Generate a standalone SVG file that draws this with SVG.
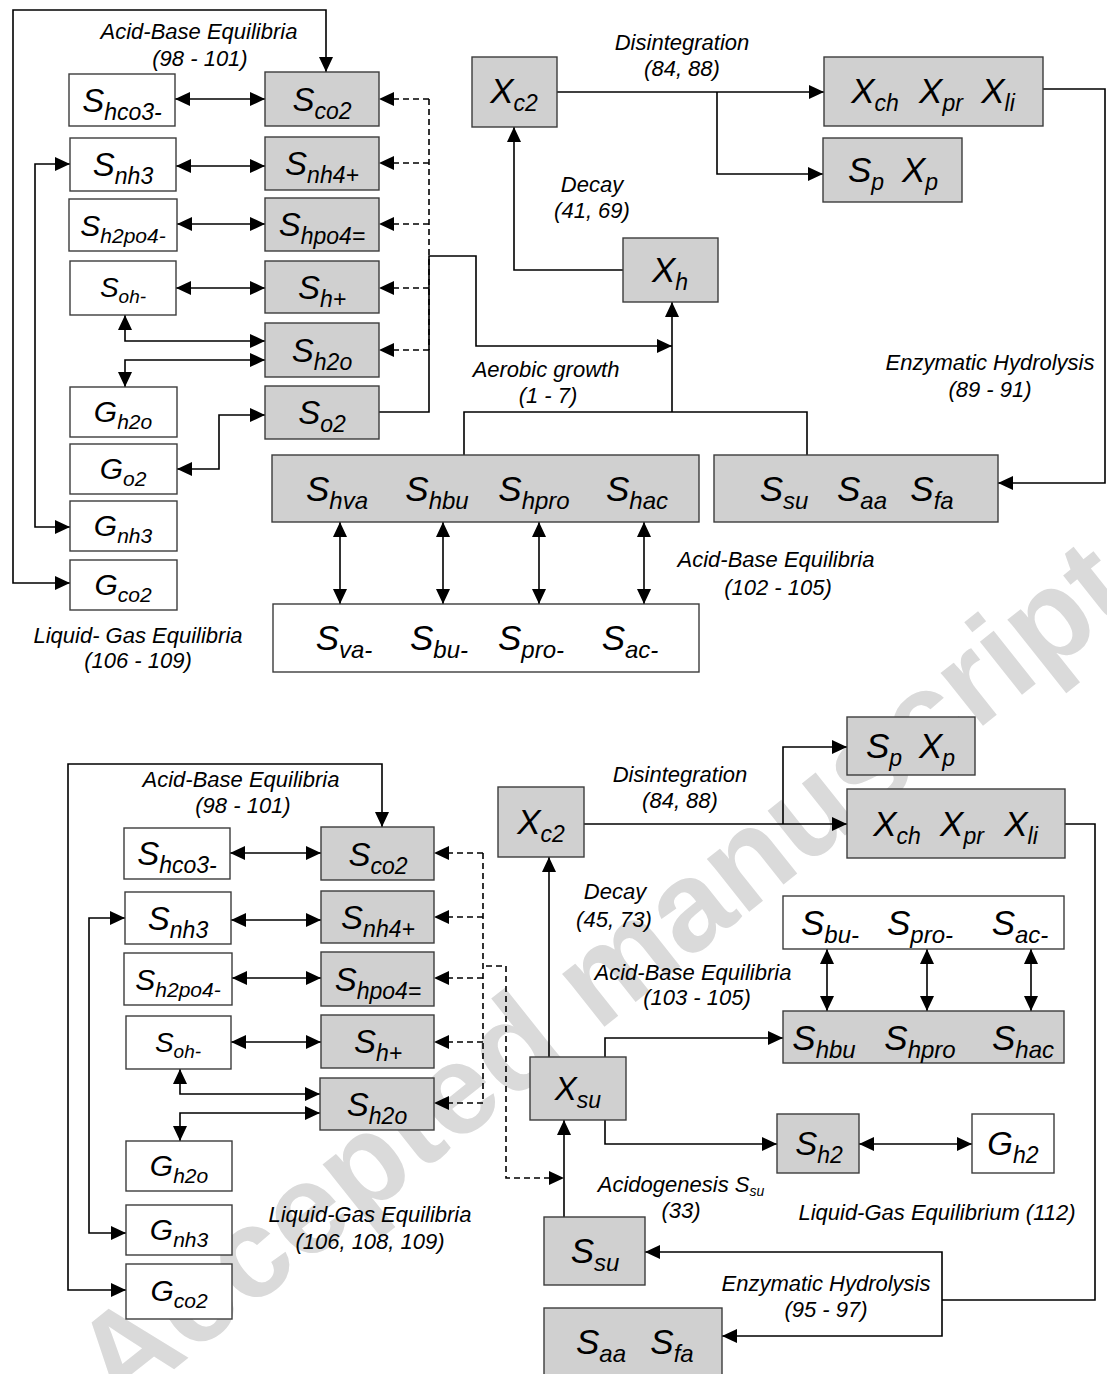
<svg xmlns="http://www.w3.org/2000/svg" width="1107" height="1374" viewBox="0 0 1107 1374">
<defs>
<style>
.g{fill:#d0d0d0;stroke:#3c3c3c;stroke-width:1.4}
.w{fill:#fff;stroke:#3c3c3c;stroke-width:1.4}
.t{font-family:"Liberation Sans",Arial,sans-serif;font-style:italic;font-size:33px;text-anchor:middle;fill:#000}
.t .sb{font-size:23px}
.t.sm{font-size:28px}
.t.sm .sb{font-size:19px}
.t.gm{font-size:30px}
.t.gm .sb{font-size:21px}
.t.xl{font-size:35px}
.t.bg{font-size:35px}
.t.bg .sb{font-size:24px}
.l{font-family:"Liberation Sans",Arial,sans-serif;font-style:italic;font-size:22px;text-anchor:middle;fill:#000}
.l .sb{font-size:14px}
.c{fill:none;stroke:#000;stroke-width:1.6}
.d{stroke-dasharray:6,4}
.a{marker-end:url(#ah)}
.b{marker-start:url(#ah);marker-end:url(#ah)}
.wm{font-family:"Liberation Sans",Arial,sans-serif;font-weight:bold;font-size:128px;fill:#dadada}
</style>
<marker id="ah" viewBox="0 0 15 14" refX="15" refY="7" markerWidth="15" markerHeight="14" markerUnits="userSpaceOnUse" orient="auto-start-reverse">
<path d="M0,0 L15,7 L0,14 z" fill="#000"/>
</marker>
</defs>
<rect width="1107" height="1374" fill="#fff"/>
<text class="wm" x="628" y="1008" text-anchor="middle" transform="rotate(-38.5 628 1008)">Accepted manuscript</text>

<g id="connectors">
<path class="c b" d="M70,583 H13 V10 H326 V72"/>
<path class="c b" d="M70,164 H35 V527 H70"/>
<path class="c b" d="M175,99 H265"/>
<path class="c b" d="M176,166 H265"/>
<path class="c b" d="M177,224 H265"/>
<path class="c b" d="M176,288 H265"/>
<path class="c b" d="M125,315 V341 H265"/>
<path class="c b" d="M265,360 H125 V387"/>
<path class="c b" d="M265,415 H219 V469 H177"/>
<path class="c d" d="M429,99 V350"/>
<path class="c d a" d="M429,99 H379"/>
<path class="c d a" d="M429,163 H379"/>
<path class="c d a" d="M429,224 H379"/>
<path class="c d a" d="M429,288 H379"/>
<path class="c d a" d="M429,350 H379"/>
<path class="c a" d="M379,412 H429 V256 H476 V346 H672"/>
<path class="c a" d="M672,412 V302"/>
<path class="c" d="M464,455 V412 H807 V455"/>
<path class="c a" d="M623,270 H514 V127"/>
<path class="c a" d="M557,92 H824"/>
<path class="c a" d="M717,92 V174 H823"/>
<path class="c a" d="M1043,89 H1105 V483 H998"/>
<path class="c b" d="M340,522 V604"/>
<path class="c b" d="M443,522 V604"/>
<path class="c b" d="M539,522 V604"/>
<path class="c b" d="M644,522 V604"/>
<path class="c b" d="M126,1290 H68 V764 H382 V827"/>
<path class="c b" d="M125,918 H89 V1233 H126"/>
<path class="c b" d="M230,853 H321"/>
<path class="c b" d="M231,920 H321"/>
<path class="c b" d="M232,978 H321"/>
<path class="c b" d="M231,1042 H321"/>
<path class="c b" d="M180,1069 V1094 H320"/>
<path class="c b" d="M320,1113 H180 V1141"/>
<path class="c d" d="M483,853 V1103"/>
<path class="c d a" d="M483,853 H434"/>
<path class="c d a" d="M483,917 H434"/>
<path class="c d a" d="M483,978 H434"/>
<path class="c d a" d="M483,1042 H434"/>
<path class="c d a" d="M483,1103 H434"/>
<path class="c d a" d="M486,966 H506 V1178 H564"/>
<path class="c a" d="M549,1057 V857"/>
<path class="c a" d="M584,824 H847"/>
<path class="c a" d="M783,824 V747 H847"/>
<path class="c a" d="M605,1057 V1038 H783"/>
<path class="c a" d="M605,1120 V1144 H777"/>
<path class="c b" d="M859,1144 H972"/>
<path class="c a" d="M564,1217 V1120"/>
<path class="c" d="M1065,824 H1095 V1300 H942"/>
<path class="c a" d="M942,1300 V1252 H645"/>
<path class="c a" d="M942,1300 V1336 H722"/>
<path class="c b" d="M827,949 V1011"/>
<path class="c b" d="M927,949 V1011"/>
<path class="c b" d="M1031,949 V1011"/>
</g>

<g id="labels">
<text class="l"><tspan x="199" y="39">Acid-Base Equilibria</tspan><tspan x="200" y="66">(98 - 101)</tspan></text>
<text class="l"><tspan x="682" y="50">Disintegration</tspan><tspan x="682" y="76">(84, 88)</tspan></text>
<text class="l"><tspan x="592" y="192">Decay</tspan><tspan x="592" y="218">(41, 69)</tspan></text>
<text class="l"><tspan x="546" y="377">Aerobic growth</tspan><tspan x="548" y="403">(1 - 7)</tspan></text>
<text class="l"><tspan x="990" y="370">Enzymatic Hydrolysis</tspan><tspan x="990" y="397">(89 - 91)</tspan></text>
<text class="l"><tspan x="776" y="567">Acid-Base Equilibria</tspan><tspan x="778" y="595">(102 - 105)</tspan></text>
<text class="l"><tspan x="138" y="643">Liquid- Gas Equilibria</tspan><tspan x="138" y="668">(106 - 109)</tspan></text>
<text class="l"><tspan x="241" y="787">Acid-Base Equilibria</tspan><tspan x="243" y="813">(98 - 101)</tspan></text>
<text class="l"><tspan x="680" y="782">Disintegration</tspan><tspan x="680" y="808">(84, 88)</tspan></text>
<text class="l"><tspan x="615" y="899">Decay</tspan><tspan x="614" y="927">(45, 73)</tspan></text>
<text class="l"><tspan x="693" y="980">Acid-Base Equilibria</tspan><tspan x="697" y="1005">(103 - 105)</tspan></text>
<text class="l"><tspan x="681" y="1192">Acidogenesis S<tspan class="sb" dy="4">su</tspan></tspan><tspan x="681" y="1218">(33)</tspan></text>
<text class="l" x="937" y="1220">Liquid-Gas Equilibrium (112)</text>
<text class="l"><tspan x="826" y="1291">Enzymatic Hydrolysis</tspan><tspan x="826" y="1317">(95 - 97)</tspan></text>
<text class="l"><tspan x="370" y="1222">Liquid-Gas Equilibria</tspan><tspan x="370" y="1249">(106, 108, 109)</tspan></text>
</g>

<g id="t_hco3"><rect class="w" x="69" y="74" width="106" height="52"/><text class="t" x="122" y="112">S<tspan class="sb" dy="8">hco3-</tspan></text></g>
<g id="t_co2"><rect class="g" x="265" y="72" width="114" height="54"/><text class="t" x="322" y="111">S<tspan class="sb" dy="8">co2</tspan></text></g>
<g id="t_nh3"><rect class="w" x="70" y="138" width="106" height="53"/><text class="t" x="123" y="176">S<tspan class="sb" dy="8">nh3</tspan></text></g>
<g id="t_nh4"><rect class="g" x="265" y="137" width="114" height="53"/><text class="t" x="322" y="175">S<tspan class="sb" dy="8">nh4+</tspan></text></g>
<g id="t_h2po4"><rect class="w" x="69" y="199" width="108" height="52"/><text class="t gm" x="123" y="236">S<tspan class="sb" dy="7">h2po4-</tspan></text></g>
<g id="t_hpo4"><rect class="g" x="265" y="198" width="114" height="53"/><text class="t" x="322" y="236">S<tspan class="sb" dy="8">hpo4=</tspan></text></g>
<g id="t_oh"><rect class="w" x="70" y="261" width="106" height="54"/><text class="t sm" x="123" y="297">S<tspan class="sb" dy="6">oh-</tspan></text></g>
<g id="t_hp"><rect class="g" x="265" y="261" width="114" height="52"/><text class="t" x="322" y="299">S<tspan class="sb" dy="8">h+</tspan></text></g>
<g id="t_h2o"><rect class="g" x="265" y="323" width="114" height="54"/><text class="t" x="322" y="362">S<tspan class="sb" dy="8">h2o</tspan></text></g>
<g id="t_o2"><rect class="g" x="265" y="386" width="114" height="53"/><text class="t" x="322" y="424">S<tspan class="sb" dy="8">o2</tspan></text></g>
<g id="t_gh2o"><rect class="w" x="70" y="387" width="107" height="50"/><text class="t gm" x="123" y="422">G<tspan class="sb" dy="7">h2o</tspan></text></g>
<g id="t_go2"><rect class="w" x="70" y="444" width="107" height="50"/><text class="t gm" x="123" y="479">G<tspan class="sb" dy="7">o2</tspan></text></g>
<g id="t_gnh3"><rect class="w" x="70" y="501" width="107" height="50"/><text class="t gm" x="123" y="536">G<tspan class="sb" dy="7">nh3</tspan></text></g>
<g id="t_gco2"><rect class="w" x="70" y="560" width="107" height="50"/><text class="t gm" x="123" y="595">G<tspan class="sb" dy="7">co2</tspan></text></g>
<g id="t_xc2"><rect class="g" x="472" y="57" width="85" height="70"/><text class="t xl" x="514" y="103">X<tspan class="sb" dy="8">c2</tspan></text></g>
<g id="t_xch"><rect class="g" x="824" y="57" width="219" height="69"/><text class="t xl" x="875" y="103">X<tspan class="sb" dy="8">ch</tspan></text><text class="t xl" x="941" y="103">X<tspan class="sb" dy="8">pr</tspan></text><text class="t xl" x="998" y="103">X<tspan class="sb" dy="8">li</tspan></text></g>
<g id="t_sp"><rect class="g" x="823" y="138" width="139" height="64"/><text class="t xl" x="866" y="182">S<tspan class="sb" dy="8">p</tspan></text><text class="t xl" x="920" y="182">X<tspan class="sb" dy="8">p</tspan></text></g>
<g id="t_xh"><rect class="g" x="623" y="238" width="95" height="64"/><text class="t xl" x="670" y="282">X<tspan class="sb" dy="8">h</tspan></text></g>
<g id="t_shva"><rect class="g" x="272" y="455" width="427" height="67"/><text class="t bg" x="337" y="501">S<tspan class="sb" dy="8">hva</tspan></text><text class="t bg" x="437" y="501">S<tspan class="sb" dy="8">hbu</tspan></text><text class="t bg" x="534" y="501">S<tspan class="sb" dy="8">hpro</tspan></text><text class="t bg" x="637" y="501">S<tspan class="sb" dy="8">hac</tspan></text></g>
<g id="t_ssu"><rect class="g" x="714" y="455" width="284" height="67"/><text class="t bg" x="784" y="501">S<tspan class="sb" dy="8">su</tspan></text><text class="t bg" x="862" y="501">S<tspan class="sb" dy="8">aa</tspan></text><text class="t bg" x="932" y="501">S<tspan class="sb" dy="8">fa</tspan></text></g>
<g id="t_sva"><rect class="w" x="273" y="604" width="426" height="68"/><text class="t bg" x="344" y="650">S<tspan class="sb" dy="8">va-</tspan></text><text class="t bg" x="439" y="650">S<tspan class="sb" dy="8">bu-</tspan></text><text class="t bg" x="531" y="650">S<tspan class="sb" dy="8">pro-</tspan></text><text class="t bg" x="630" y="650">S<tspan class="sb" dy="8">ac-</tspan></text></g>

<g id="b_hco3"><rect class="w" x="124" y="828" width="106" height="51"/><text class="t" x="177" y="865">S<tspan class="sb" dy="8">hco3-</tspan></text></g>
<g id="b_co2"><rect class="g" x="321" y="827" width="113" height="53"/><text class="t" x="378" y="866">S<tspan class="sb" dy="8">co2</tspan></text></g>
<g id="b_nh3"><rect class="w" x="125" y="892" width="106" height="52"/><text class="t" x="178" y="930">S<tspan class="sb" dy="8">nh3</tspan></text></g>
<g id="b_nh4"><rect class="g" x="321" y="891" width="113" height="52"/><text class="t" x="378" y="929">S<tspan class="sb" dy="8">nh4+</tspan></text></g>
<g id="b_h2po4"><rect class="w" x="124" y="953" width="108" height="52"/><text class="t gm" x="178" y="990">S<tspan class="sb" dy="7">h2po4-</tspan></text></g>
<g id="b_hpo4"><rect class="g" x="321" y="952" width="113" height="54"/><text class="t" x="378" y="991">S<tspan class="sb" dy="8">hpo4=</tspan></text></g>
<g id="b_oh"><rect class="w" x="126" y="1016" width="105" height="53"/><text class="t sm" x="178" y="1052">S<tspan class="sb" dy="6">oh-</tspan></text></g>
<g id="b_hp"><rect class="g" x="321" y="1015" width="113" height="53"/><text class="t" x="378" y="1053">S<tspan class="sb" dy="8">h+</tspan></text></g>
<g id="b_h2o"><rect class="g" x="320" y="1078" width="114" height="52"/><text class="t" x="377" y="1116">S<tspan class="sb" dy="8">h2o</tspan></text></g>
<g id="b_gh2o"><rect class="w" x="126" y="1141" width="106" height="50"/><text class="t gm" x="179" y="1176">G<tspan class="sb" dy="7">h2o</tspan></text></g>
<g id="b_gnh3"><rect class="w" x="126" y="1205" width="106" height="50"/><text class="t gm" x="179" y="1240">G<tspan class="sb" dy="7">nh3</tspan></text></g>
<g id="b_gco2"><rect class="w" x="126" y="1264" width="106" height="55"/><text class="t gm" x="179" y="1301">G<tspan class="sb" dy="7">co2</tspan></text></g>
<g id="b_xc2"><rect class="g" x="498" y="787" width="86" height="70"/><text class="t xl" x="541" y="834">X<tspan class="sb" dy="8">c2</tspan></text></g>
<g id="b_sp"><rect class="g" x="847" y="717" width="128" height="58"/><text class="t xl" x="884" y="758">S<tspan class="sb" dy="8">p</tspan></text><text class="t xl" x="937" y="758">X<tspan class="sb" dy="8">p</tspan></text></g>
<g id="b_xch"><rect class="g" x="847" y="789" width="218" height="69"/><text class="t xl" x="897" y="836">X<tspan class="sb" dy="8">ch</tspan></text><text class="t xl" x="962" y="836">X<tspan class="sb" dy="8">pr</tspan></text><text class="t xl" x="1021" y="836">X<tspan class="sb" dy="8">li</tspan></text></g>
<g id="b_sbu"><rect class="w" x="783" y="896" width="281" height="53"/><text class="t bg" x="830" y="935">S<tspan class="sb" dy="8">bu-</tspan></text><text class="t bg" x="920" y="935">S<tspan class="sb" dy="8">pro-</tspan></text><text class="t bg" x="1020" y="935">S<tspan class="sb" dy="8">ac-</tspan></text></g>
<g id="b_shbu"><rect class="g" x="783" y="1011" width="281" height="52"/><text class="t bg" x="824" y="1050">S<tspan class="sb" dy="8">hbu</tspan></text><text class="t bg" x="920" y="1050">S<tspan class="sb" dy="8">hpro</tspan></text><text class="t bg" x="1023" y="1050">S<tspan class="sb" dy="8">hac</tspan></text></g>
<g id="b_xsu"><rect class="g" x="530" y="1057" width="96" height="63"/><text class="t" x="578" y="1100">X<tspan class="sb" dy="8">su</tspan></text></g>
<g id="b_sh2"><rect class="g" x="777" y="1114" width="82" height="59"/><text class="t" x="819" y="1155">S<tspan class="sb" dy="8">h2</tspan></text></g>
<g id="b_gh2"><rect class="w" x="972" y="1114" width="82" height="59"/><text class="t" x="1013" y="1155">G<tspan class="sb" dy="8">h2</tspan></text></g>
<g id="b_ssu"><rect class="g" x="544" y="1217" width="101" height="68"/><text class="t bg" x="595" y="1263">S<tspan class="sb" dy="8">su</tspan></text></g>
<g id="b_saa"><rect class="g" x="544" y="1308" width="178" height="72"/><text class="t bg" x="601" y="1354">S<tspan class="sb" dy="8">aa</tspan></text><text class="t bg" x="672" y="1354">S<tspan class="sb" dy="8">fa</tspan></text></g>
</svg>
